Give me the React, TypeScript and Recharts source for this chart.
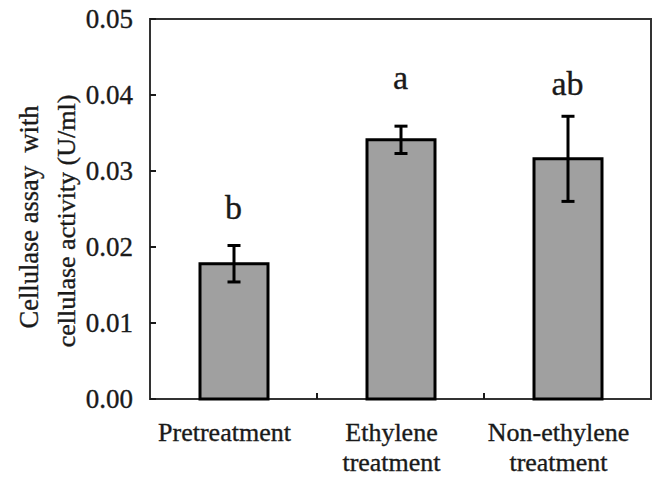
import { ComposedChart, Bar, Line, XAxis, YAxis, ErrorBar, LabelList, ReferenceArea } from 'recharts';

const categories = ['Pretreatment', 'Ethylene\ntreatment', 'Non-ethylene\ntreatment'];
const activity = [0.0178, 0.0341, 0.0316];
const stdErr = [0.0024, 0.0018, 0.0056];
const letters = ['b', 'a', 'ab'];
const letterAt = [0.0237, 0.0408, 0.04];
const yTicks = [0, 0.01, 0.02, 0.03, 0.04, 0.05];

const FONT = "'Liberation Serif', 'Times New Roman', serif";
const INK = '#1a1a1a';
// thin outline so the serif text has the weight of the scanned original
const textInk = { fill: INK, stroke: INK, strokeWidth: 0.35 };

const data = categories.map((name, i) => ({
  name,
  value: activity[i],
  err: stdErr[i],
  letter: letters[i],
  letterPos: letterAt[i],
}));

// eslint-disable-next-line @typescript-eslint/no-explicit-any
function YTick({ x, y, payload }: any) {
  return (
    <g>
      <line x1={x} x2={x + 6} y1={y} y2={y} stroke={INK} strokeWidth={2} />
      <text x={x - 17} y={y + 9} textAnchor="end" style={{ fontFamily: FONT, fontSize: 27 }} {...textInk}>
        {Number(payload.value).toFixed(2)}
      </text>
    </g>
  );
}

// eslint-disable-next-line @typescript-eslint/no-explicit-any
function XTick({ x, y, payload, index }: any) {
  const lines = String(payload.value).split('\n');
  const half = payload.offset ?? 83.5;
  return (
    <g>
      {index < categories.length - 1 && (
        <line x1={x + half} x2={x + half} y1={y} y2={y - 6} stroke={INK} strokeWidth={2} />
      )}
      {lines.map((t, i) => (
        <text
          key={i}
          x={x - 9}
          y={y + 42 + i * 30}
          textAnchor="middle"
          style={{ fontFamily: FONT, fontSize: 26 }}
          {...textInk}
        >
          {t}
        </text>
      ))}
    </g>
  );
}

function YLabel() {
  return (
    <g>
      <text
        transform="translate(38,217) rotate(-90)"
        textAnchor="middle"
        style={{ fontFamily: FONT, fontSize: 26.5, whiteSpace: 'pre' }}
        {...textInk}
      >
        {'Cellulase assay  with'}
      </text>
      <text
        transform="translate(75,221) rotate(-90)"
        textAnchor="middle"
        style={{ fontFamily: FONT, fontSize: 26 }}
        {...textInk}
      >
        cellulase activity (U/ml)
      </text>
    </g>
  );
}

// eslint-disable-next-line @typescript-eslint/no-explicit-any
function LetterLabel({ x, y, value }: any) {
  return (
    <text x={x} y={y} textAnchor="middle" style={{ fontFamily: FONT, fontSize: 34 }} {...textInk}>
      {value}
    </text>
  );
}

export default function App() {
  return (
    <div style={{ position: 'absolute', left: 0, top: 0, background: '#fff' }}>
      <ComposedChart width={656} height={479} data={data} margin={{ top: 19, right: 5, left: 0, bottom: 0 }}>
        <ReferenceArea y1={0} y2={0.05} fill="none" stroke="#333" strokeWidth={2} ifOverflow="visible" />
        <XAxis
          dataKey="name"
          height={80}
          axisLine={false}
          tickLine={false}
          tickSize={0}
          tickMargin={0}
          interval={0}
          tick={<XTick />}
        />
        <YAxis
          domain={[0, 0.05]}
          ticks={yTicks}
          width={150}
          axisLine={false}
          tickLine={false}
          tickSize={0}
          tickMargin={0}
          tick={<YTick />}
          label={<YLabel />}
        />
        <Bar dataKey="value" barSize={68} fill="#a0a0a0" stroke="#000" strokeWidth={3} isAnimationActive={false}>
          <ErrorBar dataKey="err" width={6.5} stroke="#000" strokeWidth={3} direction="y" />
        </Bar>
        <Line
          dataKey="letterPos"
          stroke="none"
          dot={false}
          activeDot={false}
          legendType="none"
          isAnimationActive={false}
        >
          <LabelList dataKey="letter" content={<LetterLabel />} />
        </Line>
      </ComposedChart>
    </div>
  );
}
